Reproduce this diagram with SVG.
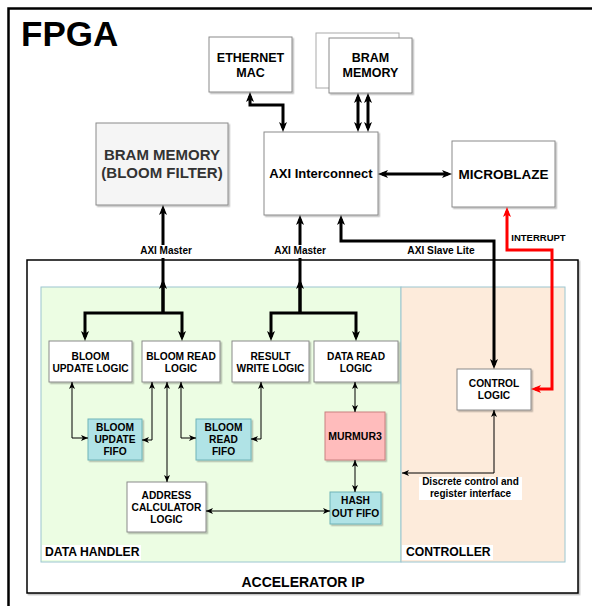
<svg xmlns="http://www.w3.org/2000/svg" width="592" height="606" viewBox="0 0 592 606">
<defs>
<style>
.t{font-family:"Liberation Sans",Arial,sans-serif;font-weight:bold;fill:#000;text-anchor:middle}
.node{fill:#fff;stroke:#8a8a8a;stroke-width:1;filter:url(#sh)}
.fifo{fill:#b0e3e6;stroke:#6fb3b8;stroke-width:1;filter:url(#sh)}
.thick{fill:none;stroke:#000;stroke-width:3;marker-end:url(#ta)}
.both{marker-start:url(#ta)}
.thin{fill:none;stroke:#000;stroke-width:1;marker-start:url(#sa);marker-end:url(#sa)}
.lbg{fill:#fff}
</style>
<filter id="sh" x="-10%" y="-10%" width="130%" height="130%">
<feDropShadow dx="1.5" dy="1.5" stdDeviation="0.7" flood-color="#000" flood-opacity="0.25"/>
</filter>
<marker id="ta" markerUnits="userSpaceOnUse" markerWidth="10" markerHeight="8" refX="6" refY="4" orient="auto-start-reverse" overflow="visible"><path d="M0,0 L10,4 L0,8 L2.5,4 z" fill="#000"/></marker>
<marker id="tr" markerUnits="userSpaceOnUse" markerWidth="10" markerHeight="8" refX="6" refY="4" orient="auto-start-reverse" overflow="visible"><path d="M0,0 L10,4 L0,8 L2.5,4 z" fill="#ff0000"/></marker>
<marker id="sa" markerUnits="userSpaceOnUse" markerWidth="7" markerHeight="6" refX="7" refY="3" orient="auto-start-reverse" overflow="visible"><path d="M0,0 L7,3 L0,6 L1.8,3 z" fill="#000"/></marker>
</defs>
<rect width="592" height="606" fill="#fff"/>

<g id="fpga">
<rect x="8.5" y="8.5" width="610" height="620" fill="none" stroke="#000" stroke-width="2.5"/>
<text class="t" x="21" y="46" font-size="35" style="text-anchor:start">FPGA</text>
</g>

<g id="accelerator-ip">
<rect x="27" y="260" width="551" height="333" fill="#fff" stroke="#000" stroke-width="1.5" filter="url(#sh)"/>
<text class="t" x="303" y="587" font-size="14">ACCELERATOR IP</text>
</g>

<g id="data-handler">
<rect x="41" y="287" width="360" height="275" fill="#ecfde3" stroke="#9cc6d0" stroke-width="1"/>
<rect x="42" y="545" width="99" height="15" fill="#fff"/>
<text class="t" x="45" y="556" font-size="12.2" style="text-anchor:start">DATA HANDLER</text>
</g>

<g id="controller">
<rect x="401" y="287" width="164" height="275" fill="#fdebdb" stroke="#9cc6d0" stroke-width="1"/>
<rect x="402" y="545" width="91" height="15" fill="#fff"/>
<text class="t" x="406" y="556" font-size="12.2" style="text-anchor:start">CONTROLLER</text>
</g>

<g id="ethernet-mac">
<rect class="node" x="209" y="37" width="83" height="55"/>
<text class="t" x="250.5" y="62" font-size="12.5">ETHERNET</text>
<text class="t" x="250.5" y="77" font-size="12.5">MAC</text>
</g>

<g id="bram-memory">
<rect x="316" y="33" width="83" height="55" fill="#fff" stroke="#aaa" stroke-width="1"/>
<rect class="node" x="329" y="38" width="83" height="55"/>
<text class="t" x="370.5" y="62" font-size="12.5">BRAM</text>
<text class="t" x="370.5" y="77" font-size="12.5">MEMORY</text>
</g>

<g id="bram-bloom-filter">
<rect x="96" y="123" width="132" height="82" fill="#f5f5f5" stroke="#8a8a8a" stroke-width="1" filter="url(#sh)"/>
<text class="t" x="162" y="160" font-size="15" style="fill:#333">BRAM MEMORY</text>
<text class="t" x="162" y="178" font-size="15" style="fill:#333">(BLOOM FILTER)</text>
</g>

<g id="axi-interconnect">
<rect class="node" x="264" y="132" width="114" height="83"/>
<text class="t" x="321" y="178" font-size="13">AXI Interconnect</text>
</g>

<g id="microblaze">
<rect class="node" x="452" y="141" width="103" height="66"/>
<text class="t" x="503.5" y="179" font-size="13.5">MICROBLAZE</text>
</g>

<g id="bloom-update-logic">
<rect class="node" x="49" y="341" width="83" height="41"/>
<text class="t" x="90.5" y="360" font-size="10.2">BLOOM</text>
<text class="t" x="90.5" y="372" font-size="10.2">UPDATE LOGIC</text>
</g>

<g id="bloom-read-logic">
<rect class="node" x="142" y="341" width="78" height="41"/>
<text class="t" x="181" y="360" font-size="10.2">BLOOM READ</text>
<text class="t" x="181" y="372" font-size="10.2">LOGIC</text>
</g>

<g id="result-write-logic">
<rect class="node" x="232" y="341" width="77" height="41"/>
<text class="t" x="270.5" y="360" font-size="10.2">RESULT</text>
<text class="t" x="270.5" y="372" font-size="10.2">WRITE LOGIC</text>
</g>

<g id="data-read-logic">
<rect class="node" x="314" y="341" width="84" height="41"/>
<text class="t" x="356" y="360" font-size="10.2">DATA READ</text>
<text class="t" x="356" y="372" font-size="10.2">LOGIC</text>
</g>

<g id="control-logic">
<rect class="node" x="457" y="369" width="74" height="41"/>
<text class="t" x="494" y="387" font-size="10.2">CONTROL</text>
<text class="t" x="494" y="399" font-size="10.2">LOGIC</text>
</g>

<g id="bloom-update-fifo">
<rect class="fifo" x="88" y="419" width="54" height="41"/>
<text class="t" x="115" y="431" font-size="10.2">BLOOM</text>
<text class="t" x="115" y="443" font-size="10.2">UPDATE</text>
<text class="t" x="115" y="455" font-size="10.2">FIFO</text>
</g>

<g id="bloom-read-fifo">
<rect class="fifo" x="196" y="419" width="55" height="41"/>
<text class="t" x="223.5" y="431" font-size="10.2">BLOOM</text>
<text class="t" x="223.5" y="443" font-size="10.2">READ</text>
<text class="t" x="223.5" y="455" font-size="10.2">FIFO</text>
</g>

<g id="murmur3">
<rect x="325" y="412" width="60" height="48" fill="#ffbcbc" stroke="#c98080" stroke-width="1" filter="url(#sh)"/>
<text class="t" x="355" y="440" font-size="10.5">MURMUR3</text>
</g>

<g id="hash-out-fifo">
<rect class="fifo" x="330" y="492" width="51" height="32"/>
<text class="t" x="355.5" y="504" font-size="10.2">HASH</text>
<text class="t" x="355.5" y="517" font-size="10.2">OUT FIFO</text>
</g>

<g id="address-calculator-logic">
<rect class="node" x="127" y="482" width="79" height="50"/>
<text class="t" x="166.5" y="498.5" font-size="10.2">ADDRESS</text>
<text class="t" x="166.5" y="510.5" font-size="10.2">CALCULATOR</text>
<text class="t" x="166.5" y="522.5" font-size="10.2">LOGIC</text>
</g>

<g id="connectors">
<path class="thick both" d="M250,96 V105 H283 V128"/>
<path class="thick both" d="M358,97 V128"/>
<path class="thick both" d="M368,97 V128"/>
<path class="thick both" d="M382,174 H448"/>
<path class="thick" d="M163,313 V209"/>
<path class="thick" d="M163,313 V283"/>
<path class="thick both" d="M85,337 V313 H182 V337"/>
<path class="thick" d="M300,313 V219"/>
<path class="thick" d="M300,313 V283"/>
<path class="thick both" d="M271,337 V313 H356 V337"/>
<path class="thick both" d="M341,219 V241 H494 V365"/>
<path d="M535,389 H552 V250 H507 V211" fill="none" stroke="#ff0000" stroke-width="3" marker-start="url(#tr)" marker-end="url(#tr)"/>
<path class="thin" d="M72,382 V438 H88"/>
<path class="thin" d="M152,382 V440 H142"/>
<path class="thin" d="M167,382 V482"/>
<path class="thin" d="M181,382 V438 H196"/>
<path class="thin" d="M261,382 V439 H251"/>
<path class="thin" d="M355,382 V412"/>
<path class="thin" d="M355,460 V492"/>
<path class="thin" d="M206,511 H330"/>
<path class="thin" d="M494,410 V473 H402"/>
<rect class="lbg" x="138" y="245" width="56" height="13"/>
<text class="t" x="166" y="254" font-size="10">AXI Master</text>
<rect class="lbg" x="272" y="245" width="56" height="13"/>
<text class="t" x="300" y="254" font-size="10">AXI Master</text>
<rect class="lbg" x="405" y="245" width="72" height="13"/>
<text class="t" x="441" y="254" font-size="10.2">AXI Slave Lite</text>
<text class="t" x="538.5" y="241" font-size="9.5">INTERRUPT</text>
<rect class="lbg" x="419" y="477" width="103" height="23"/>
<text class="t" x="470.5" y="485" font-size="10">Discrete control and</text>
<text class="t" x="470.5" y="497" font-size="10">register interface</text>
</g>
</svg>
